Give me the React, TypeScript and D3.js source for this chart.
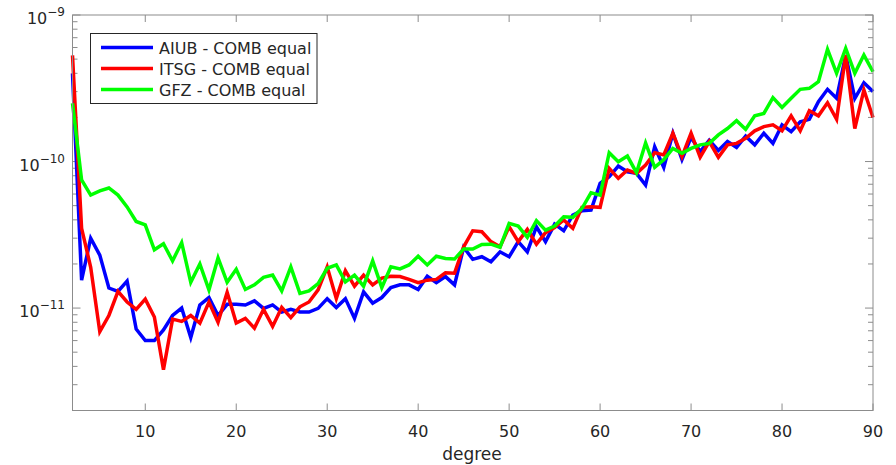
import React from "react";
import * as d3 from "d3";

const degrees: number[] = d3.range(2, 91);

const aiub: number[] = [
  4.0e-10, 1.55e-11, 3.0e-11, 2.3e-11, 1.37e-11, 1.3e-11, 1.53e-11, 7.2e-12, 6.0e-12, 6.0e-12,
  7.1e-12, 8.9e-12, 1.0e-11, 6.3e-12, 1.05e-11, 1.18e-11, 8.9e-12, 1.06e-11, 1.06e-11, 1.05e-11,
  1.12e-11, 9.95e-12, 1.05e-11, 9.4e-12, 9.8e-12, 9.4e-12, 9.4e-12, 9.95e-12, 1.16e-11, 1.01e-11,
  1.16e-11, 8.5e-12, 1.29e-11, 1.08e-11, 1.18e-11, 1.38e-11, 1.44e-11, 1.44e-11, 1.34e-11, 1.65e-11,
  1.49e-11, 1.64e-11, 1.44e-11, 2.6e-11, 2.15e-11, 2.24e-11, 2.07e-11, 2.42e-11, 2.24e-11, 2.84e-11,
  2.42e-11, 3.59e-11, 2.84e-11, 3.74e-11, 3.37e-11, 4.31e-11, 4.61e-11, 4.67e-11, 7.1e-11, 7.87e-11,
  9.31e-11, 8.52e-11, 8.3e-11, 6.91e-11, 1.26e-10, 9.12e-11, 1.56e-10, 1.03e-10, 1.46e-10, 1.17e-10,
  1.4e-10, 1.19e-10, 1.37e-10, 1.25e-10, 1.49e-10, 1.3e-10, 1.56e-10, 1.33e-10, 1.78e-10, 1.6e-10,
  1.87e-10, 1.94e-10, 2.56e-10, 3.11e-10, 2.7e-10, 5.33e-10, 2.7e-10, 3.45e-10, 3.0e-10,
];

const itsg: number[] = [
  5.3e-10, 3.5e-11, 1.9e-11, 6.9e-12, 8.9e-12, 1.3e-11, 1.1e-11, 9.8e-12, 1.15e-11, 8.7e-12,
  3.8e-12, 8.4e-12, 8.1e-12, 8.9e-12, 7.9e-12, 1.1e-11, 8.0e-12, 1.28e-11, 7.9e-12, 8.5e-12,
  7.3e-12, 9.8e-12, 7.5e-12, 1.01e-11, 8.6e-12, 1.02e-11, 1.1e-11, 1.33e-11, 1.91e-11, 1.16e-11,
  1.8e-11, 1.41e-11, 1.68e-11, 1.44e-11, 1.6e-11, 1.65e-11, 1.64e-11, 1.57e-11, 1.49e-11, 1.55e-11,
  1.57e-11, 1.74e-11, 1.73e-11, 2.62e-11, 3.37e-11, 3.32e-11, 2.84e-11, 2.62e-11, 3.59e-11, 2.84e-11,
  3.44e-11, 2.73e-11, 3.27e-11, 3.55e-11, 3.99e-11, 3.5e-11, 4.87e-11, 4.92e-11, 4.87e-11, 8.98e-11,
  7.68e-11, 8.75e-11, 8.3e-11, 9.47e-11, 1.15e-10, 1.11e-10, 1.56e-10, 1.08e-10, 1.56e-10, 1.07e-10,
  1.37e-10, 1.07e-10, 1.3e-10, 1.33e-10, 1.44e-10, 1.62e-10, 1.73e-10, 1.78e-10, 1.62e-10, 2.05e-10,
  1.62e-10, 2.22e-10, 2.05e-10, 2.52e-10, 1.94e-10, 5.33e-10, 1.68e-10, 3.08e-10, 2.0e-10,
];

const gfz: number[] = [
  2.5e-10, 7.5e-11, 5.9e-11, 6.3e-11, 6.6e-11, 5.9e-11, 4.9e-11, 3.9e-11, 3.7e-11, 2.5e-11,
  2.75e-11, 2.1e-11, 2.8e-11, 1.5e-11, 2.0e-11, 1.33e-11, 2.2e-11, 1.5e-11, 1.84e-11, 1.34e-11,
  1.44e-11, 1.62e-11, 1.68e-11, 1.31e-11, 1.91e-11, 1.26e-11, 1.31e-11, 1.47e-11, 1.87e-11, 1.97e-11,
  1.51e-11, 1.68e-11, 1.41e-11, 2.1e-11, 1.38e-11, 1.91e-11, 1.85e-11, 1.97e-11, 2.26e-11, 1.97e-11,
  2.26e-11, 2.18e-11, 2.16e-11, 2.53e-11, 2.53e-11, 2.72e-11, 2.73e-11, 2.6e-11, 3.79e-11, 3.63e-11,
  3.04e-11, 3.95e-11, 3.4e-11, 3.63e-11, 4.2e-11, 4.16e-11, 4.78e-11, 6.12e-11, 5.9e-11, 1.15e-10,
  9.97e-11, 1.09e-10, 8.39e-11, 1.34e-10, 9.12e-11, 1.03e-10, 1.23e-10, 1.14e-10, 1.23e-10, 1.3e-10,
  1.33e-10, 1.52e-10, 1.68e-10, 1.9e-10, 1.66e-10, 2.05e-10, 2.13e-10, 2.73e-10, 2.34e-10, 2.7e-10,
  3.11e-10, 3.16e-10, 3.51e-10, 5.83e-10, 4.0e-10, 5.93e-10, 4.0e-10, 5.33e-10, 4.1e-10,
];

const seriesNames: string[] = ["AIUB - COMB equal", "ITSG - COMB equal", "GFZ - COMB equal"];
const seriesColors: string[] = ["#0000ff", "#ff0000", "#00ff00"];
const xTicks: number[] = [10, 20, 30, 40, 50, 60, 70, 80, 90];
const yMajor: number[] = [1e-11, 1e-10, 1e-9];
const yMajorExp: string[] = ["−11", "−10", "−9"];

const W = 896;
const H = 465;
const left = 72.5;
const right = 873;
const top = 15;
const bottom = 410.5;

export default function App() {
  const x = d3.scaleLinear().domain([2, 90]).range([left, right]);
  const y = d3.scaleLog().domain([2e-12, 1e-9]).range([bottom, top]);
  const line = d3
    .line<[number, number]>()
    .x((d) => x(d[0]))
    .y((d) => y(d[1]));
  const all = [aiub, itsg, gfz];

  const minor: number[] = [];
  [1e-12, 1e-11, 1e-10].forEach((b) => {
    for (let k = 2; k <= 9; k++) {
      const v = k * b;
      if (v >= 2e-12 && v < 1e-9) minor.push(v);
    }
  });

  const axisColor = "#8c8c8c";
  const textColor = "#262626";
  const font = "DejaVu Sans";

  return (
    <svg width={W} height={H} style={{ position: "absolute", left: 0, top: 0, background: "#fff" }}>
      <rect x={0} y={0} width={W} height={H} fill="#fff" />
      <rect x={left} y={top} width={right - left} height={bottom - top} fill="#fff" />
      {/* x ticks */}
      {xTicks.map((t) => (
        <g key={"xt" + t}>
          <line x1={x(t)} x2={x(t)} y1={bottom} y2={bottom - 7} stroke={axisColor} strokeWidth={1} />
          <line x1={x(t)} x2={x(t)} y1={top} y2={top + 7} stroke={axisColor} strokeWidth={1} />
          <text
            x={x(t)}
            y={437}
            textAnchor="middle"
            fontFamily={font}
            fontSize={16}
            fill={textColor}
          >
            {t}
          </text>
        </g>
      ))}
      {/* y ticks */}
      {minor.map((v, i) => (
        <g key={"ym" + i}>
          <line x1={left} x2={left + 5} y1={y(v)} y2={y(v)} stroke={axisColor} strokeWidth={1} />
          <line x1={right} x2={right - 5} y1={y(v)} y2={y(v)} stroke={axisColor} strokeWidth={1} />
        </g>
      ))}
      {yMajor.map((v, i) => (
        <g key={"yM" + i}>
          <line x1={left} x2={left + 8} y1={y(v)} y2={y(v)} stroke={axisColor} strokeWidth={1} />
          <line x1={right} x2={right - 8} y1={y(v)} y2={y(v)} stroke={axisColor} strokeWidth={1} />
          <text
            x={65}
            y={y(v) + 9}
            textAnchor="end"
            fontFamily={font}
            fontSize={16}
            fill={textColor}
          >
            10
            <tspan dy={-8} fontSize={12}>
              {yMajorExp[i]}
            </tspan>
          </text>
        </g>
      ))}
      {/* lines */}
      {all.map((s, i) => (
        <path
          key={"s" + i}
          d={line(degrees.map((d, j) => [d, s[j]] as [number, number])) || ""}
          fill="none"
          stroke={seriesColors[i]}
          strokeWidth={3.5}
          strokeLinejoin="miter"
        />
      ))}
      {/* frame */}
      <rect
        x={left}
        y={top}
        width={right - left}
        height={bottom - top}
        fill="none"
        stroke={axisColor}
        strokeWidth={1}
      />
      {/* x label */}
      <text x={472} y={460} textAnchor="middle" fontFamily={font} fontSize={17} fill={textColor}>
        degree
      </text>
      {/* legend */}
      <rect x={90.5} y={33.5} width={226.5} height={70} fill="#fff" stroke="#262626" strokeWidth={1} />
      {seriesNames.map((n, i) => {
        const ly = 47.5 + i * 21;
        return (
          <g key={"lg" + i}>
            <line x1={101} x2={153} y1={ly} y2={ly} stroke={seriesColors[i]} strokeWidth={3.5} />
            <text x={159} y={ly + 6} fontFamily={font} fontSize={16} fill={textColor}>
              {n}
            </text>
          </g>
        );
      })}
    </svg>
  );
}
